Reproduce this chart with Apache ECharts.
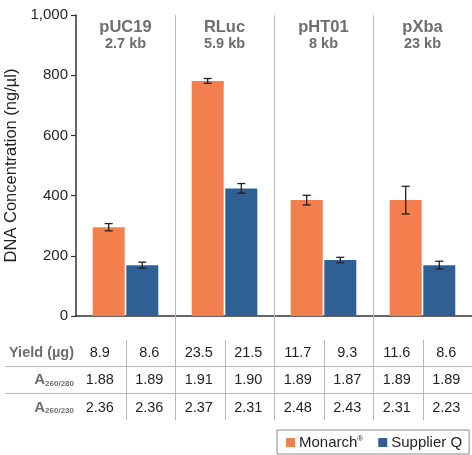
<!DOCTYPE html>
<html>
<head>
<meta charset="utf-8">
<script src="https://cdn.jsdelivr.net/npm/echarts@6/dist/echarts.min.js"></script>
<style>
html,body{margin:0;padding:0;background:#fff;}
#main{width:472px;height:455px;}
</style>
</head>
<body>
<div id="main"></div>
<script>
const categories = ['pUC19', 'RLuc', 'pHT01', 'pXba'];
const sizes = ['2.7 kb', '5.9 kb', '8 kb', '23 kb'];
const monarch = [295, 781, 385, 385];
const monarchErr = [12, 8, 16, 46];
const supplierQ = [169, 424, 186, 169];
const supplierErr = [10, 16, 9, 13];
const yTicks = [0, 200, 400, 600, 800, 1000];
const yieldM = ['8.9', '23.5', '11.7', '11.6'];
const yieldQ = ['8.6', '21.5', '9.3', '8.6'];
const a280M = ['1.88', '1.91', '1.89', '1.89'];
const a280Q = ['1.89', '1.90', '1.87', '1.89'];
const a230M = ['2.36', '2.37', '2.48', '2.31'];
const a230Q = ['2.36', '2.31', '2.43', '2.23'];

const ORANGE = '#f37e4e';
const BLUE = '#2f6094';
const DARK = '#231f20';
const GRAY = '#6d6e71';
const LINE = '#b8b8b8';
const FONT = 'Liberation Sans, Arial, sans-serif';
const BAR_W = 32;
const OFFSET = 16.8;

const chart = echarts.init(document.getElementById('main'), null, {renderer: 'canvas'});

function errSeries(vals, errs, sign) {
  return {
    type: 'custom',
    z: 10,
    silent: true,
    data: vals.map((v, i) => [i, v - errs[i], v + errs[i]]),
    renderItem: function (params, api) {
      const i = api.value(0);
      const lo = api.coord([i, api.value(1)]);
      const hi = api.coord([i, api.value(2)]);
      const x = lo[0] + sign * OFFSET;
      const cw = 4;
      const st = {stroke: DARK, lineWidth: 1.3};
      return {
        type: 'group',
        children: [
          {type: 'line', shape: {x1: x, y1: hi[1], x2: x, y2: lo[1]}, style: st},
          {type: 'line', shape: {x1: x - cw, y1: hi[1], x2: x + cw, y2: hi[1]}, style: st},
          {type: 'line', shape: {x1: x - cw, y1: lo[1], x2: x + cw, y2: lo[1]}, style: st}
        ]
      };
    }
  };
}

chart.setOption({
  animation: false,
  textStyle: {fontFamily: FONT},
  grid: {left: 76, right: 0, top: 15, bottom: 139, containLabel: false, outerBoundsMode: 'none'},
  legend: {
    data: ['Monarch', 'Supplier Q'],
    left: 277, bottom: 1,
    orient: 'horizontal',
    icon: 'rect',
    itemWidth: 9, itemHeight: 9,
    itemGap: 15,
    padding: [5, 7, 4, 9],
    borderColor: '#8a8a8a', borderWidth: 1,
    formatter: function (n) { return n === 'Monarch' ? 'Monarch{s|®}' : n; },
    textStyle: {
      fontSize: 15, color: DARK, fontFamily: FONT, padding: [0, 0, 0, -1],
      rich: {s: {fontSize: 8, verticalAlign: 'top', color: DARK, padding: [0, 0, 7, 0]}}
    }
  },
  xAxis: [{
    type: 'category',
    data: categories,
    axisLine: {lineStyle: {color: '#333', width: 1.5}},
    axisTick: {show: false},
    axisLabel: {show: false},
    splitLine: {show: false}
  }, {
    type: 'category',
    position: 'top',
    data: categories.map((c, i) => c + '\n' + sizes[i]),
    axisLine: {show: false},
    axisTick: {show: false},
    axisLabel: {
      inside: true,
      margin: 3,
      formatter: function (v) { const p = v.split('\n'); return '{a|' + p[0] + '}\n{b|' + p[1] + '}'; },
      rich: {
        a: {fontSize: 16.5, fontWeight: 'bold', color: GRAY, lineHeight: 18, fontFamily: FONT},
        b: {fontSize: 14.5, fontWeight: 'bold', color: GRAY, lineHeight: 16, fontFamily: FONT}
      }
    }
  }],
  yAxis: {
    type: 'value',
    min: 0, max: 1000, interval: 200,
    name: 'DNA Concentration (ng/µl)',
    nameLocation: 'middle',
    nameGap: 53,
    nameTextStyle: {fontSize: 16.5, color: DARK, fontFamily: FONT},
    axisLine: {show: true, lineStyle: {color: '#333', width: 1.5}},
    axisTick: {show: true, length: 5, lineStyle: {color: '#333', width: 1.2}},
    axisLabel: {
      margin: 8, fontSize: 15, color: DARK, fontFamily: FONT,
      formatter: function (v) { return yTicks.indexOf(v) >= 0 ? v.toLocaleString('en-US') : ''; }
    },
    splitLine: {show: false}
  },
  series: [
    {name: 'Monarch', type: 'bar', data: monarch, barWidth: BAR_W, barGap: '5%', itemStyle: {color: ORANGE}},
    {name: 'Supplier Q', type: 'bar', data: supplierQ, barWidth: BAR_W, barGap: '5%', itemStyle: {color: BLUE}},
    errSeries(monarch, monarchErr, -1),
    errSeries(supplierQ, supplierErr, 1)
  ]
});

// table and separators, positioned from the category scale
const centers = categories.map((c, i) => chart.convertToPixel({xAxisIndex: 0}, i));
const band = centers[1] - centers[0];
const yTop = chart.convertToPixel({yAxisIndex: 0}, 1000);
const g = [];
const rowY = [353, 380, 407.5];
const hLines = [366, 393];
const tableBottom = 420;
const xLeft = 5, xRight = 472;

for (let i = 0; i < categories.length - 1; i++) {
  const x = Math.round(centers[i] + band / 2) + 0.5;
  g.push({type: 'line', shape: {x1: x, y1: yTop, x2: x, y2: tableBottom}, style: {stroke: LINE, lineWidth: 1}, z: 1});
}
for (let i = 0; i < categories.length; i++) {
  const x = Math.round(centers[i]) + 0.5;
  g.push({type: 'line', shape: {x1: x, y1: 340, x2: x, y2: tableBottom}, style: {stroke: LINE, lineWidth: 1}});
}
hLines.forEach(y => g.push({type: 'line', shape: {x1: xLeft, y1: y + 0.5, x2: xRight, y2: y + 0.5}, style: {stroke: LINE, lineWidth: 1}}));

const rows = [[yieldM, yieldQ], [a280M, a280Q], [a230M, a230Q]];
rows.forEach((r, ri) => {
  for (let i = 0; i < categories.length; i++) {
    [[r[0][i], -1], [r[1][i], 1]].forEach(([txt, s]) => {
      g.push({type: 'text', x: centers[i] + s * band / 4 - 1, y: rowY[ri],
        style: {text: txt, fontSize: 14.5, fill: DARK, fontFamily: FONT, align: 'center', verticalAlign: 'middle'}});
    });
  }
});

const labelX = 74;
g.push({type: 'text', x: labelX, y: rowY[0], style: {text: 'Yield (µg)', fontSize: 14.5, fontWeight: 'bold', fill: GRAY, fontFamily: FONT, align: 'right', verticalAlign: 'middle'}});
['260/280', '260/230'].forEach((sub, k) => {
  g.push({type: 'text', x: labelX, y: rowY[k + 1],
    style: {
      text: '{a|A}{s|' + sub + '}',
      align: 'right', verticalAlign: 'middle',
      rich: {
        a: {fontSize: 15, fontWeight: 'bold', fill: GRAY, fontFamily: FONT, verticalAlign: 'middle'},
        s: {fontSize: 8, fontWeight: 'bold', fill: GRAY, fontFamily: FONT, verticalAlign: 'bottom', padding: [6, 0, 0, 0]}
      }
    }});
});

chart.setOption({graphic: g});
</script>
</body>
</html>
